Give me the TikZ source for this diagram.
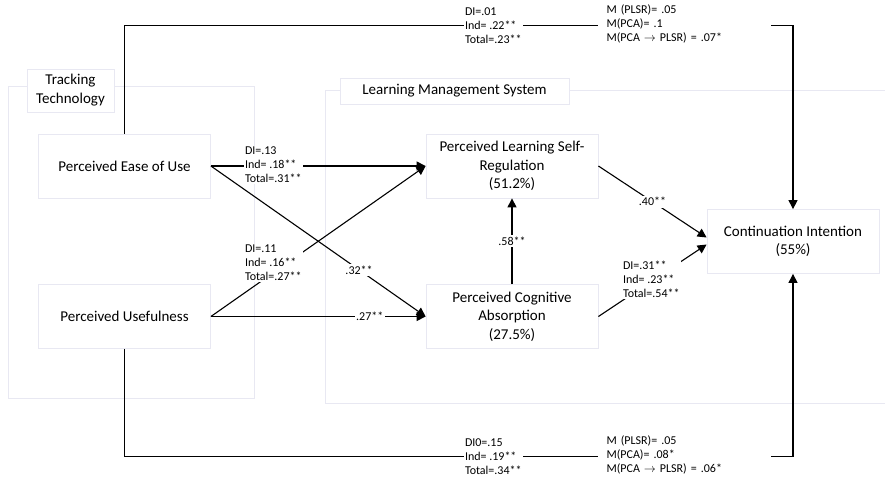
\documentclass[tikz,border=0pt]{standalone}
\usepackage{fontspec}
\setmainfont{Carlito}
\usepackage{tikz}
\usetikzlibrary{arrows.meta, positioning, calc}

\definecolor{framegray}{RGB}{232,232,242}

\begin{document}
\begin{tikzpicture}[-,x=1pt,y=-1pt,line width=1pt,
   main node/.style={rectangle,draw=framegray,fill=white,line width=0.8pt,align=center,minimum width=172pt,minimum height=64pt,font=\fontsize{15}{18.5}\selectfont},
   group frame/.style={draw=framegray,line width=0.8pt},
   group label/.style={rectangle,draw=framegray,fill=white,line width=0.8pt,align=center,inner sep=1pt,font=\fontsize{15}{19}\selectfont},
   path label/.style={fill=white,inner sep=1.5pt,align=left,font=\fontsize{12}{14}\selectfont},
   effect/.style={-{Triangle[length=9pt,width=9pt]},line width=1.1pt}]

 \useasboundingbox (0,0) rectangle (885,480);

%Group frames
 \draw[group frame] (8,86) rectangle (254,398);
 \draw[group frame] (885,90) -| (325,403) -- (885,403);
 \node[group label,minimum width=87pt,minimum height=43pt] (TrackLabel) at (70.5,90.5) {Tracking\\Technology};
 \node[group label,minimum width=229pt,minimum height=26pt] (LMSLabel) at (454.5,91) {Learning Management System};

%Constructs
 \node[main node] (PEU) at (124.5,166) {Perceived Ease of Use};
 \node[main node] (PU) at (124.5,316.5) {Perceived Usefulness};
 \node[main node] (PLSR) at (512,166) {Perceived Learning Self-\\Regulation\\(51.2\%)};
 \node[main node] (PCA) at (512,316.5) {Perceived Cognitive\\Absorption\\(27.5\%)};
 \node[main node] (CI) at (793,241.5) {Continuation Intention\\(55\%)};

%Outer paths to continuation intention
 \draw[effect] (PEU.north) -- ++(0,-108) -| (CI.north);
 \node[path label,anchor=west] (TopDirect) at (463,26) {DI=.01\\Ind= .22**\\Total=.23**};
 \node[path label,anchor=west,text width=155pt,inner xsep=9pt] (TopMediation) at (597,24) {M (PLSR)= .05\\M(PCA)= .1\\M(PCA $\rightarrow$ PLSR) = .07*};

 \draw[effect] (PU.south) -- ++(0,108) -| (CI.south);
 \node[path label,anchor=west] (BottomDirect) at (463,457) {DI0=.15\\Ind= .19**\\Total=.34**};
 \node[path label,anchor=west,text width=155pt,inner xsep=9pt] (BottomMediation) at (597,455) {M (PLSR)= .05\\M(PCA)= .08*\\M(PCA $\rightarrow$ PLSR) = .06*};

%Inner paths
 \draw[effect] (PEU.east) -- (PLSR.west);
 \node[path label,anchor=west] (PEUPLSR) at (243,165) {DI=.13\\Ind= .18**\\Total=.31**};

 \draw[effect] (PEU.east) -- (PCA.west) node[path label,pos=0.69] (PEUPCA) {.32**};

 \draw[effect] (PU.east) -- (PLSR.west);
 \node[path label,anchor=west] (PUPLSR) at (243,263) {DI=.11\\Ind= .16**\\Total=.27**};

 \draw[effect] (PU.east) -- (PCA.west) node[path label,pos=0.74] (PUPCA) {.27**};

 \draw[effect] (PCA.north) -- (PLSR.south) node[path label,pos=0.5] (PCAPLSR) {.58**};

 \draw[effect] (PLSR.east) -- ([yshift=4pt]CI.west) node[path label,pos=0.5] (PLSRCI) {.40**};

 \draw[effect] (PCA.east) -- ([yshift=-3pt]CI.west);
 \node[path label,anchor=west] (PCACI) at (621,279) {DI=.31**\\Ind= .23**\\Total=.54**};

\end{tikzpicture}
\end{document}
